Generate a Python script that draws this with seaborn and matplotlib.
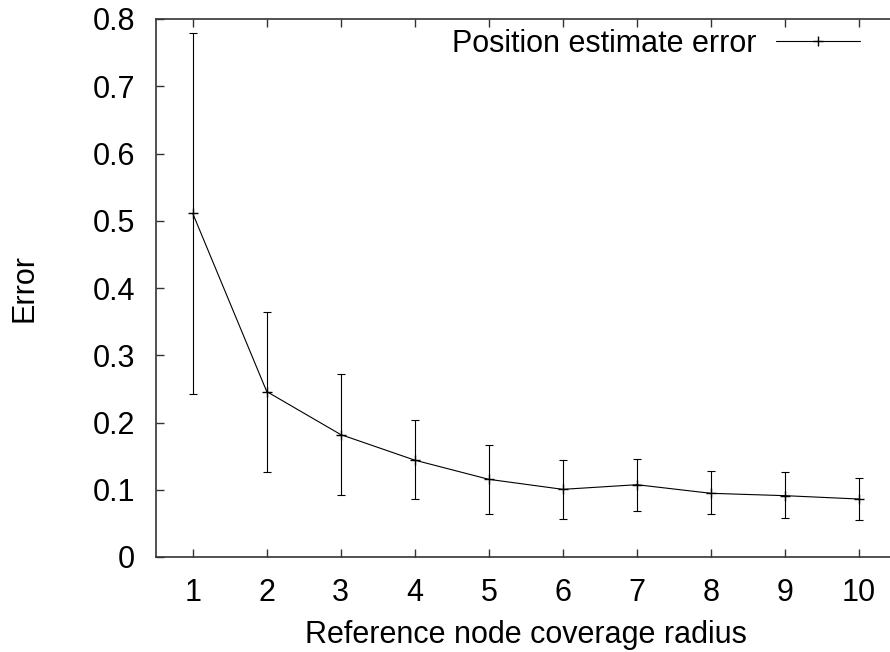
import matplotlib
matplotlib.use("Agg")
import matplotlib.pyplot as plt
import matplotlib.ticker as mticker
import seaborn as sns
import pandas as pd
import numpy as np

radius = [1, 2, 3, 4, 5, 6, 7, 8, 9, 10]
err_mean = [0.511, 0.246, 0.182, 0.144, 0.1155, 0.1006, 0.1075, 0.0947, 0.0912, 0.0862]
err_low = [0.243, 0.127, 0.092, 0.086, 0.064, 0.057, 0.069, 0.0635, 0.058, 0.055]
err_high = [0.779, 0.364, 0.2726, 0.2033, 0.167, 0.1442, 0.1462, 0.1274, 0.126, 0.117]
y_ticks = [0, 0.1, 0.2, 0.3, 0.4, 0.5, 0.6, 0.7, 0.8]
series_label = "Position estimate error"

df = pd.DataFrame({"radius": radius, "error": err_mean})

sns.set_theme(style="ticks")
plt.rcParams["font.family"] = ["Liberation Sans", "DejaVu Sans"]
plt.rcParams["text.color"] = "black"
plt.rcParams["axes.labelcolor"] = "black"
plt.rcParams["xtick.labelcolor"] = "black"
plt.rcParams["ytick.labelcolor"] = "black"

FS = 22

fig = plt.figure(figsize=(8.9, 6.52), dpi=100)
ax = fig.add_axes([155.7 / 890, 1 - 557 / 652, (896 - 155.7) / 890, (557 - 19) / 652])

lo = np.array(err_mean) - np.array(err_low)
hi = np.array(err_high) - np.array(err_mean)
ax.errorbar(radius, err_mean, yerr=[lo, hi], fmt="none", ecolor="black",
            elinewidth=0.8, capsize=2.9, capthick=0.8)
sns.lineplot(data=df, x="radius", y="error", ax=ax, color="black", linewidth=0.8,
             marker="+", markersize=7, markeredgewidth=1.0, markeredgecolor="black",
             markerfacecolor="black", label=series_label)

ax.set_xlim(0.5, 10.5)
ax.set_ylim(0, 0.8)
ax.set_xticks(radius)
ax.set_yticks(y_ticks)
ax.yaxis.set_major_formatter(mticker.FuncFormatter(lambda v, p: "0" if abs(v) < 1e-9 else f"{v:.1f}"))

ax.tick_params(axis="both", direction="in", length=6, width=1.0, labelsize=FS,
               pad=15, color="#333333", labelcolor="black", top=True, right=False)
for s in ax.spines.values():
    s.set_linewidth(1.2)
    s.set_color("#333333")

ax.set_xlabel("Reference node coverage radius", fontsize=FS, labelpad=9, color="black")
ax.set_ylabel("Error", fontsize=FS, labelpad=38, color="black")

leg = ax.legend(loc="center right", bbox_to_anchor=(860 / 890, 1 - 44 / 652),
                bbox_transform=fig.transFigure, frameon=False, markerfirst=False,
                fontsize=FS, handlelength=2.75, handletextpad=0.65, borderpad=0,
                borderaxespad=0)
for t in leg.get_texts():
    t.set_color("black")

fig.savefig("out.png", dpi=100)
